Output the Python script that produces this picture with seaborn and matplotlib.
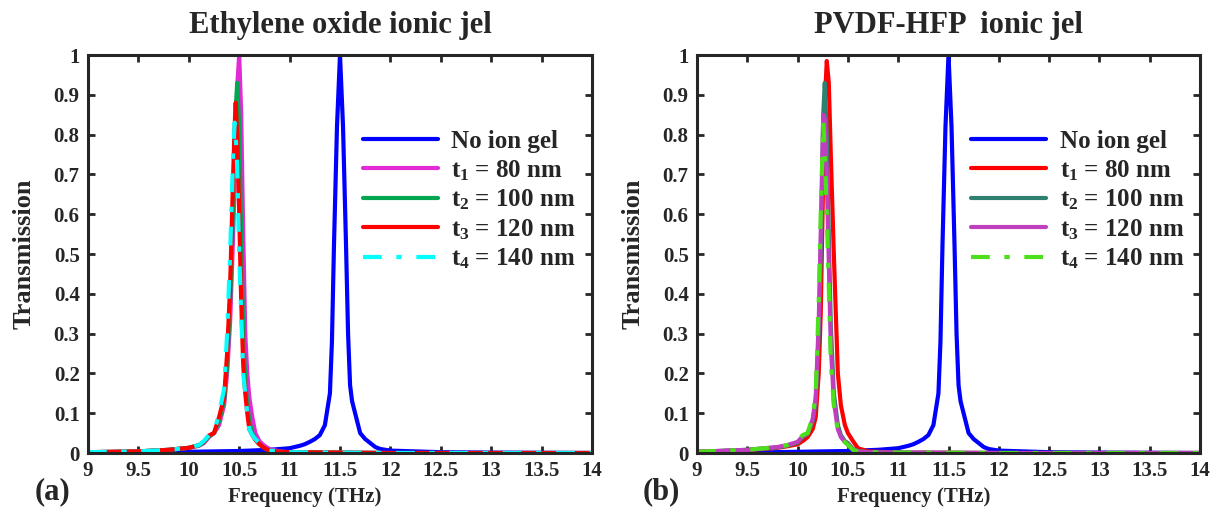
import matplotlib
matplotlib.use("Agg")
import matplotlib.pyplot as plt
import seaborn as sns

# No ion gel (same reference curve in both panels)
freq_blue = [9.0, 9.5, 10.0, 10.5, 10.8, 11.0, 11.1, 11.15, 11.2, 11.25, 11.3, 11.35, 11.4, 11.42, 11.44,
             11.47, 11.5, 11.53, 11.56, 11.58, 11.6, 11.62, 11.65, 11.7, 11.75, 11.8, 11.85, 11.9, 12.0,
             12.5, 13.0, 14.0]
trans_blue = [0.0, 0.001, 0.003, 0.005, 0.008, 0.012, 0.018, 0.022, 0.028, 0.035, 0.045, 0.07, 0.15, 0.28,
              0.52, 0.82, 1.0, 0.82, 0.52, 0.3, 0.17, 0.13, 0.1, 0.05, 0.035, 0.025, 0.015, 0.01, 0.006,
              0.002, 0.001, 0.0]

# (a) Ethylene oxide ionic gel
freq_a = [9.0, 9.5, 9.8, 10.0, 10.1, 10.15, 10.2, 10.25, 10.3, 10.35, 10.38, 10.41, 10.44, 10.455, 10.465,
          10.48, 10.5, 10.52, 10.54, 10.56, 10.58, 10.6, 10.63, 10.66, 10.7, 10.75, 10.8, 10.9, 11.0,
          11.5, 12.0, 14.0]
t1_a = [0.002, 0.004, 0.008, 0.013, 0.018, 0.025, 0.04, 0.05, 0.07, 0.12, 0.2, 0.33, 0.55, 0.68, 0.78,
        0.92, 1.0, 0.85, 0.55, 0.3, 0.2, 0.14, 0.09, 0.05, 0.03, 0.018, 0.01, 0.004, 0.002, 0.001, 0.0, 0.0]
t2_a = [0.002, 0.004, 0.008, 0.013, 0.019, 0.027, 0.042, 0.05, 0.08, 0.13, 0.22, 0.38, 0.63, 0.78, 0.86,
        0.93, 0.82, 0.55, 0.3, 0.18, 0.12, 0.08, 0.05, 0.035, 0.022, 0.012, 0.006, 0.003, 0.002, 0.001, 0.0, 0.0]
t3_a = [0.002, 0.004, 0.008, 0.013, 0.02, 0.028, 0.044, 0.05, 0.09, 0.14, 0.25, 0.42, 0.7, 0.82, 0.88,
        0.8, 0.6, 0.38, 0.22, 0.15, 0.1, 0.06, 0.045, 0.033, 0.022, 0.012, 0.006, 0.003, 0.002, 0.001, 0.0, 0.0]
t4_a = [0.002, 0.004, 0.008, 0.013, 0.02, 0.03, 0.045, 0.05, 0.1, 0.16, 0.3, 0.5, 0.75, 0.83, 0.8,
        0.72, 0.5, 0.35, 0.2, 0.15, 0.1, 0.06, 0.045, 0.035, 0.025, 0.012, 0.006, 0.003, 0.002, 0.001, 0.0, 0.0]

# (b) PVDF-HFP ionic gel
freq_b = [9.0, 9.5, 9.8, 9.9, 10.0, 10.05, 10.1, 10.15, 10.18, 10.21, 10.23, 10.255, 10.27, 10.29, 10.31,
          10.33, 10.36, 10.4, 10.43, 10.47, 10.5, 10.55, 10.6, 10.7, 11.0, 12.0, 14.0]
t1_b = [0.003, 0.007, 0.013, 0.017, 0.022, 0.03, 0.04, 0.06, 0.09, 0.2, 0.35, 0.7, 0.88, 0.985, 0.93,
        0.75, 0.5, 0.2, 0.12, 0.07, 0.05, 0.03, 0.012, 0.004, 0.001, 0.0, 0.0]
t2_b = [0.003, 0.008, 0.014, 0.019, 0.026, 0.04, 0.048, 0.08, 0.13, 0.3, 0.5, 0.85, 0.93, 0.8, 0.55,
        0.32, 0.15, 0.07, 0.045, 0.03, 0.025, 0.01, 0.005, 0.002, 0.001, 0.0, 0.0]
t3_b = [0.003, 0.008, 0.015, 0.02, 0.028, 0.042, 0.05, 0.085, 0.14, 0.33, 0.55, 0.85, 0.84, 0.7, 0.48,
        0.27, 0.13, 0.06, 0.04, 0.028, 0.022, 0.008, 0.004, 0.002, 0.001, 0.0, 0.0]
t4_b = [0.003, 0.008, 0.015, 0.02, 0.03, 0.045, 0.05, 0.09, 0.15, 0.38, 0.6, 0.83, 0.76, 0.6, 0.42,
        0.23, 0.12, 0.055, 0.038, 0.027, 0.02, 0.008, 0.004, 0.002, 0.001, 0.0, 0.0]

labels = ['No ion gel', '$t_1$ = 80 nm', '$t_2$ = 100 nm', '$t_3$ = 120 nm', '$t_4$ = 140 nm']
xticks = [9, 9.5, 10, 10.5, 11, 11.5, 12, 12.5, 13, 13.5, 14]
xticklabels = ['9', '9.5', '10', '10.5', '11', '11.5', '12', '12.5', '13', '13.5', '14']
yticks = [0, 0.1, 0.2, 0.3, 0.4, 0.5, 0.6, 0.7, 0.8, 0.9, 1]
yticklabels = ['0', '0.1', '0.2', '0.3', '0.4', '0.5', '0.6', '0.7', '0.8', '0.9', '1']

sns.set_style('ticks')
plt.rcParams['font.family'] = ['Liberation Serif', 'DejaVu Serif']
plt.rcParams['font.weight'] = 'bold'
plt.rcParams['mathtext.fontset'] = 'custom'
plt.rcParams['mathtext.rm'] = 'Liberation Serif:bold'
plt.rcParams['mathtext.it'] = 'Liberation Serif:bold'
plt.rcParams['mathtext.bf'] = 'Liberation Serif:bold'

fig = plt.figure(figsize=(12.13, 5.11), dpi=100)
ax_a = fig.add_axes([88 / 1213, 1 - 453 / 511, 504 / 1213, 398 / 511])
ax_b = fig.add_axes([697 / 1213, 1 - 453 / 511, 503 / 1213, 398 / 511])

dashdot = (0, (4.5, 3.5, 1.3, 3.5))
lw = 3.0

panels = [
    (ax_a, 'Ethylene oxide ionic jel', freq_a, [t1_a, t2_a, t3_a, t4_a],
     ['#E22BD5', '#00A650', '#FF0000', '#00FFFF'], '(a)', 52),
    (ax_b, 'PVDF-HFP  ionic jel', freq_b, [t1_b, t2_b, t3_b, t4_b],
     ['#FF0000', '#2E8070', '#BF3FBF', '#4CE01A'], '(b)', 661),
]

for ax, title, freq, series, colors, tag, tag_x in panels:
    sns.lineplot(x=freq_blue, y=trans_blue, ax=ax, color='#0000FF', lw=lw, label=labels[0], estimator=None)
    for i, (vals, col) in enumerate(zip(series, colors)):
        ls = dashdot if i == 3 else '-'
        sns.lineplot(x=freq, y=vals, ax=ax, color=col, lw=lw, linestyle=ls, label=labels[i + 1],
                     estimator=None)
    ax.set_xlim(9, 14)
    ax.set_ylim(0, 1)
    ax.set_xticks(xticks)
    ax.set_xticklabels(xticklabels)
    ax.set_yticks(yticks)
    ax.set_yticklabels(yticklabels)
    ax.tick_params(direction='in', top=True, right=True, length=5, width=2, labelsize=15, pad=6,
                   color='#262626')
    for sp in ax.spines.values():
        sp.set_linewidth(2.2)
        sp.set_color('#262626')
    ax.set_title(title, fontsize=22, fontweight='bold', pad=16)
    ax.set_xlabel('Frequency (THz)', fontsize=15, fontweight='bold')
    ax.set_ylabel('Transmission', fontsize=19, fontweight='bold')
    ax.xaxis.set_label_coords(0.43, -0.085)
    ax.yaxis.set_label_coords(-0.105, 0.5)
    ax.legend(loc='upper left', bbox_to_anchor=(0.52, 0.843), frameon=False, fontsize=18,
              handlelength=3.0, handletextpad=0.55, labelspacing=0.2, borderpad=0)
    fig.text(tag_x / 1213, 1 - 492 / 511, tag, fontsize=22, fontweight='bold', ha='center', va='center')

fig.savefig('out.png', dpi=100)
